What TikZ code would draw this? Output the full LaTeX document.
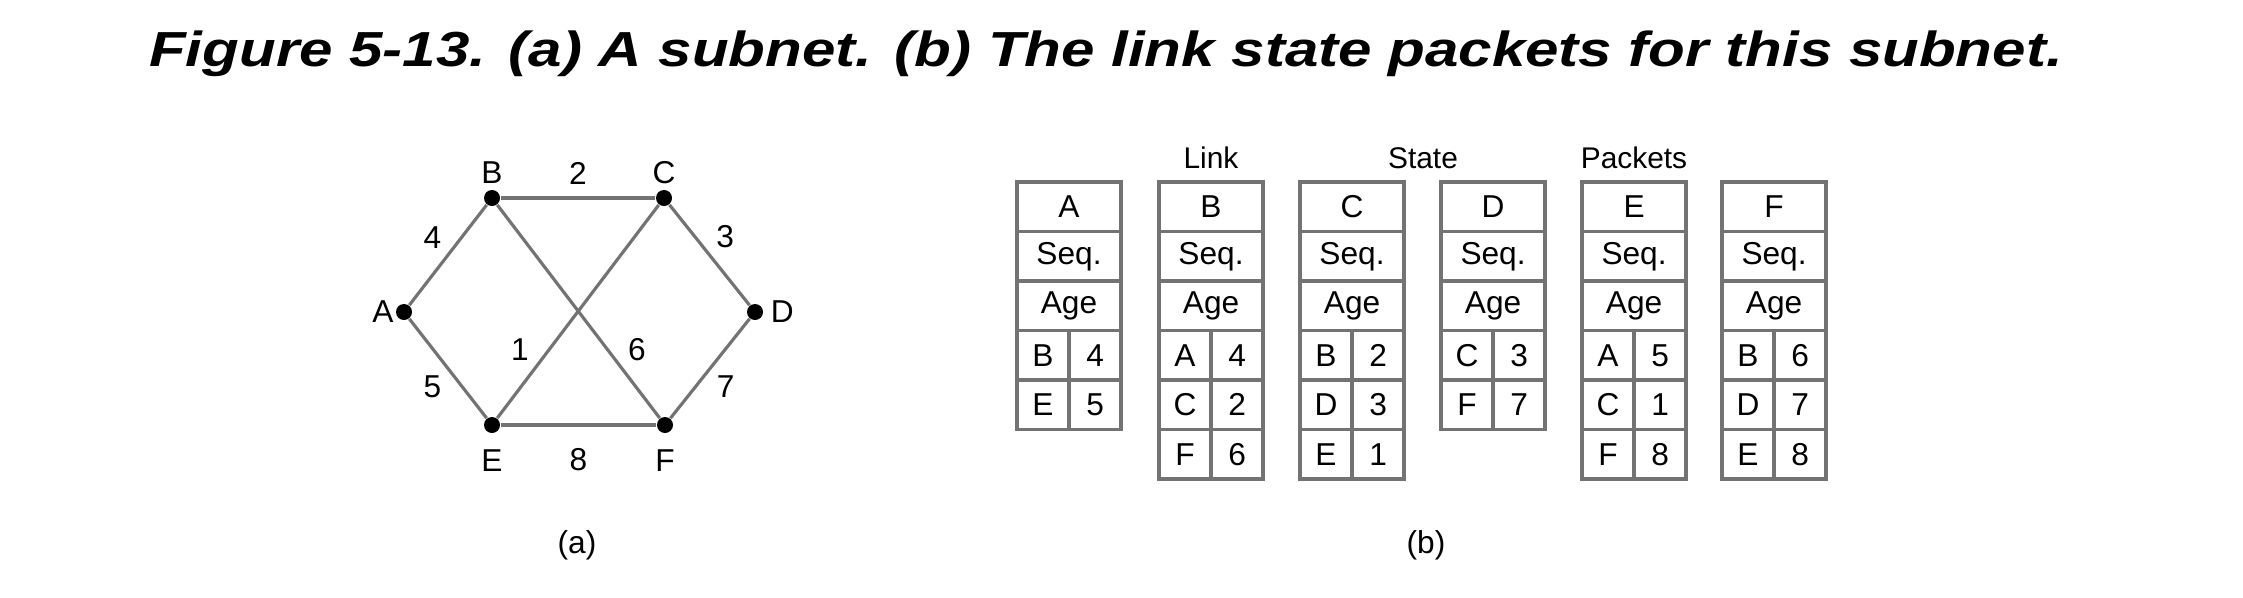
\documentclass[tikz,border=0pt]{standalone}
\usepackage{fontspec}
\setmainfont{Liberation Sans}
\newfontfamily\titlefont[FakeStretch=1.22]{Liberation Sans}
\usetikzlibrary{positioning}
\definecolor{linkgray}{gray}{0.45}
\begin{document}
\begin{tikzpicture}[x=0.01cm, y=-0.01cm,
  dot/.style={circle, fill, inner sep=0pt, minimum size=0.16cm},
  link/.style={draw=linkgray, line width=0.9pt},
  wt/.style={font=\fontsize{9}{10}\selectfont},
  wtd/.style={wt, inner sep=1.5pt},
  field/.style={draw=linkgray, line width=1pt, minimum width=1.04cm, minimum height=0.495cm,
    inner sep=0pt, outer sep=0pt, font=\fontsize{9}{10}\selectfont},
  half/.style={field, minimum width=0.52cm}]
  \useasboundingbox (0,0) rectangle (2243,597);
  \node[font=\titlefont\fontsize{14}{16}\bfseries\itshape\selectfont, anchor=base] (title) at (1106,66)
    {Figure 5-13. (a) A subnet. (b) The link state packets for this subnet.};

  \node[dot, label={[wt, label distance=-3pt]left:A}] (A) at (404,312) {};
  \node[dot, label={[wt, label distance=-2pt]above:B}] (B) at (492,198) {};
  \node[dot, label={[wt, label distance=-2pt]above:C}] (C) at (664,198) {};
  \node[dot, label={[wt, label distance=-1.5pt]right:D}] (D) at (755,312) {};
  \node[dot, label={[wt, label distance=1pt]below:E}] (E) at (492,425) {};
  \node[dot, label={[wt, label distance=1pt]below:F}] (F) at (665,425) {};
  \draw[link] (A) -- node[wtd, above left] (w4) {4} (B);
  \draw[link] (B) -- node[wt, above] (w2) {2} (C);
  \draw[link] (C) -- node[wtd, above right] (w3) {3} (D);
  \draw[link] (A) -- node[wtd, below left] (w5) {5} (E);
  \draw[link] (D) -- node[wtd, below right] (w7) {7} (F);
  \draw[link] (E) -- node[wt, below=3pt] (w8) {8} (F);
  \draw[link] (E) -- node[wt, pos=.32, left=2pt] (w1) {1} (C);
  \draw[link] (B) -- node[wt, pos=.68, right=2pt] (w6) {6} (F);
  \node[wt] (capa) at (577,545) {(a)};

  \foreach \n/\x/\rows in {A/1017/{B/4,E/5}, B/1159/{A/4,C/2,F/6}, C/1300/{B/2,D/3,E/1},
      D/1441/{C/3,F/7}, E/1582/{A/5,C/1,F/8}, F/1722/{B/6,D/7,E/8}} {
    \node[field, anchor=north west] (\n-id) at (\x,182) {\n};
    \node[field, below=0pt of \n-id] (\n-seq) {Seq.};
    \node[field, below=0pt of \n-seq] (\n-age) {Age};
    \foreach \p/\w [count=\k] in \rows {
      \node[half, anchor=north west] (\n-p\k) at (\x,{330.5+49.5*(\k-1)}) {\p};
      \node[half, right=0pt of \n-p\k] (\n-w\k) {\w};
    }
  }
  \node[font=\fontsize{8.5}{10}\selectfont, anchor=base] (hlink) at (1211,168) {Link};
  \node[font=\fontsize{8.5}{10}\selectfont, anchor=base] (hstate) at (1423,168) {State};
  \node[font=\fontsize{8.5}{10}\selectfont, anchor=base] (hpack) at (1634,168) {Packets};
  \node[wt] (capb) at (1426,545) {(b)};
\end{tikzpicture}
\end{document}
